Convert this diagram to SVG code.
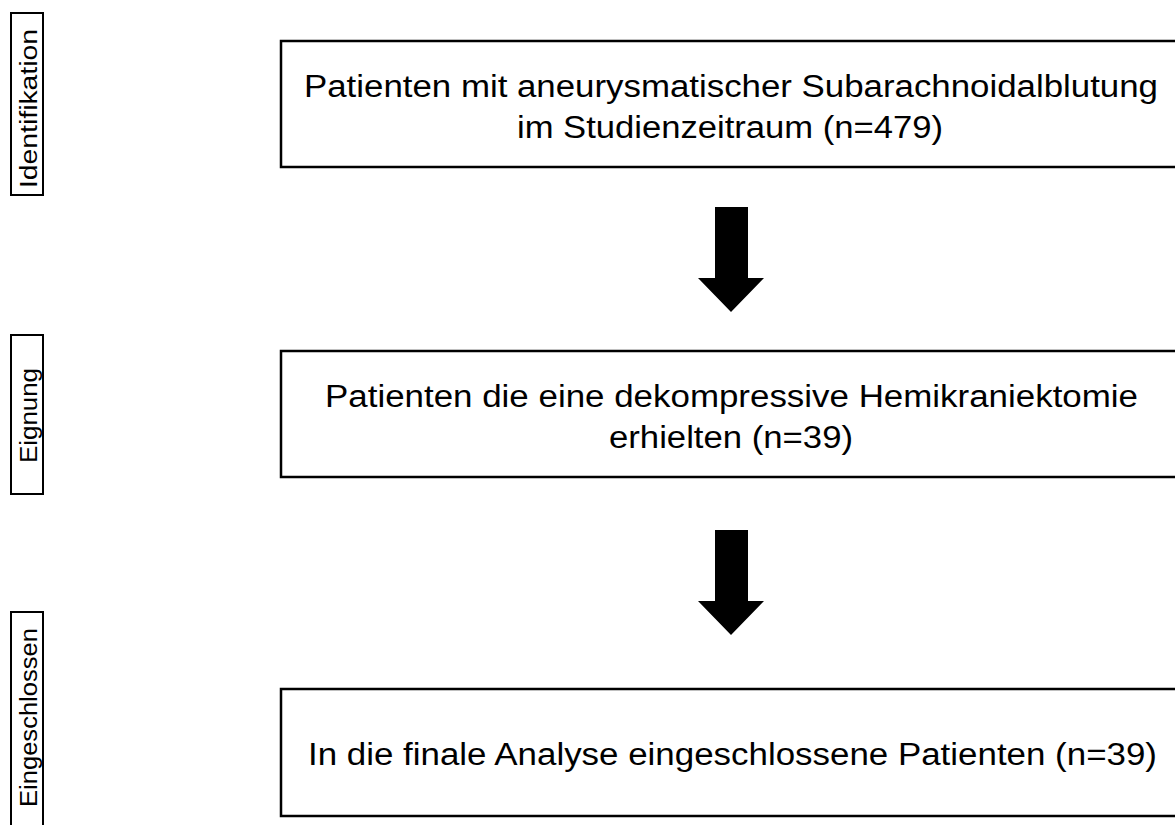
<svg xmlns="http://www.w3.org/2000/svg" width="1175" height="825" viewBox="0 0 1175 825">
<style>
.box{fill:#fff;stroke:#000;stroke-width:2.5}
.lab{fill:none;stroke:#000;stroke-width:2}
.t{font-family:"Liberation Sans",Arial,sans-serif;font-size:31px;fill:#000;text-anchor:middle}
.s{font-family:"Liberation Sans",Arial,sans-serif;font-size:23px;fill:#000;text-anchor:middle}
.arr{fill:#000}
</style>
<rect width="1175" height="825" fill="#fff"/>
<g id="label-identifikation">
<rect class="lab" x="11" y="13" width="32" height="182"/>
<text class="s" transform="translate(37,108.5) rotate(-90)" textLength="159" lengthAdjust="spacingAndGlyphs">Identifikation</text>
</g>
<g id="label-eignung">
<rect class="lab" x="11" y="335" width="32" height="159"/>
<text class="s" transform="translate(37,415.5) rotate(-90)" textLength="95" lengthAdjust="spacingAndGlyphs">Eignung</text>
</g>
<g id="label-eingeschlossen">
<rect class="lab" x="11" y="612" width="32" height="230"/>
<text class="s" transform="translate(37,717.5) rotate(-90)" textLength="179" lengthAdjust="spacingAndGlyphs">Eingeschlossen</text>
</g>
<g id="node1">
<rect class="box" x="281" y="41" width="900" height="126"/>
<text class="t" x="731" y="97" textLength="854" lengthAdjust="spacingAndGlyphs">Patienten mit aneurysmatischer Subarachnoidalblutung</text>
<text class="t" x="730" y="138" textLength="426" lengthAdjust="spacingAndGlyphs">im Studienzeitraum (n=479)</text>
</g>
<g id="node2">
<rect class="box" x="281" y="351" width="900" height="126"/>
<text class="t" x="731.5" y="407" textLength="813" lengthAdjust="spacingAndGlyphs">Patienten die eine dekompressive Hemikraniektomie</text>
<text class="t" x="731" y="448" textLength="244" lengthAdjust="spacingAndGlyphs">erhielten (n=39)</text>
</g>
<g id="node3">
<rect class="box" x="281" y="689" width="900" height="127"/>
<text class="t" x="732.5" y="765" textLength="849" lengthAdjust="spacingAndGlyphs">In die finale Analyse eingeschlossene Patienten (n=39)</text>
</g>
<g id="connectors">
<polygon class="arr" points="715,207 748,207 748,278 764,278 731,312 698,278 715,278"/>
<polygon class="arr" points="715,530 748,530 748,601 764,601 731,635 698,601 715,601"/>
</g>
</svg>
